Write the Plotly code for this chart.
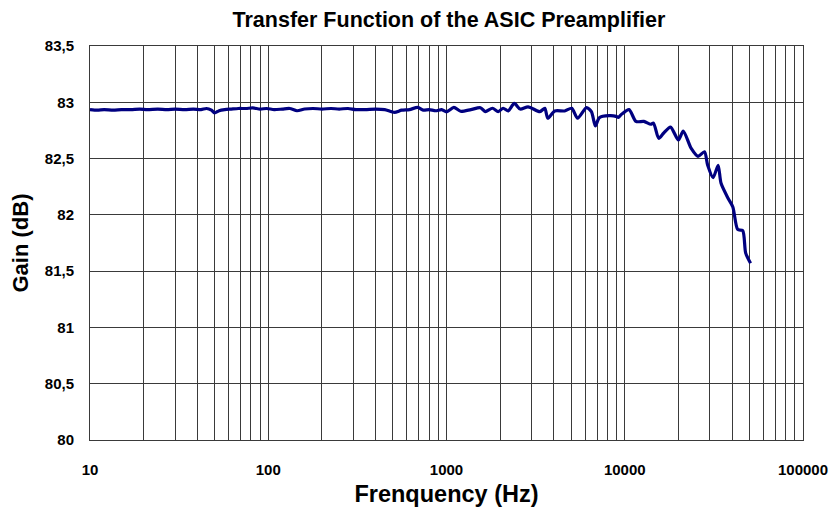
import plotly.graph_objects as go

# Measured gain of the ASIC preamplifier versus frequency
freq_hz = [
    10, 11, 12, 13.5, 15, 17, 19, 21, 24, 27, 30, 34, 38, 42, 45, 48, 50, 53,
    57, 62, 68, 75, 82, 90, 98, 108, 120, 132, 145, 160, 178, 200, 225, 250,
    280, 310, 350, 400, 450, 510, 560, 620, 690, 740, 800, 870, 940, 1000,
    1100, 1200, 1370, 1550, 1650, 1810, 1950, 2080, 2220, 2400, 2590, 2870,
    3340, 3560, 3700, 4050, 4600, 5040, 5440, 6100, 6500, 6840, 7200, 8180,
    8940, 9200, 9540, 10570, 11550, 12800, 14000, 14500, 15500, 16500, 18060,
    20000, 21300, 23600, 25800, 28000, 29200, 31300, 33400, 34700, 37900,
    40400, 43000, 45900, 47700, 50800,
]
gain_db = [
    82.935, 82.93, 82.935, 82.93, 82.935, 82.935, 82.94, 82.935, 82.94, 82.935,
    82.94, 82.935, 82.94, 82.935, 82.945, 82.93, 82.905, 82.925, 82.935, 82.94,
    82.945, 82.945, 82.95, 82.94, 82.945, 82.935, 82.94, 82.945, 82.925, 82.94,
    82.945, 82.94, 82.945, 82.94, 82.945, 82.935, 82.935, 82.94, 82.935, 82.91,
    82.93, 82.935, 82.955, 82.93, 82.935, 82.925, 82.935, 82.915,
    82.955, 82.92, 82.935, 82.952, 82.917, 82.947, 82.917, 82.947, 82.923,
    82.99, 82.94, 82.96, 82.917, 82.947, 82.858, 82.923, 82.923, 82.947,
    82.858, 82.952, 82.917, 82.79, 82.863, 82.881, 82.875, 82.865, 82.89,
    82.935, 82.83, 82.83, 82.805, 82.815, 82.68, 82.725, 82.78, 82.665,
    82.745, 82.59, 82.52, 82.56, 82.44, 82.33, 82.44, 82.28, 82.15, 82.07,
    81.87, 81.86, 81.66, 81.57,
]

# Axis ticks and grid positions
x_grid_vals = [m * 10 ** d for d in range(1, 5) for m in range(1, 10)] + [100000]
x_labels = {10: "10", 100: "100", 1000: "1000", 10000: "10000", 100000: "100000"}
x_grid_text = [x_labels.get(v, "") for v in x_grid_vals]
y_tick_vals = [80, 80.5, 81, 81.5, 82, 82.5, 83, 83.5]
y_tick_text = ["80", "80,5", "81", "81,5", "82", "82,5", "83", "83,5"]

font_family = "Liberation Sans, Arial, sans-serif"

fig = go.Figure()
fig.add_trace(go.Scatter(
    x=freq_hz,
    y=gain_db,
    mode="lines",
    line=dict(color="#000080", width=3.2, shape="spline", smoothing=0.7),
    showlegend=False,
    hoverinfo="x+y",
))

fig.update_layout(
    width=840,
    height=514,
    paper_bgcolor="white",
    plot_bgcolor="white",
    margin=dict(l=90, r=29, t=46, b=74),
    title=dict(
        text="<b>Transfer Function of the ASIC Preamplifier</b>",
        x=0.5345, xanchor="center",
        y=0.963, yanchor="middle",
        font=dict(family=font_family, size=21.5, color="black"),
    ),
    font=dict(family=font_family, color="black"),
)

fig.update_xaxes(
    type="log",
    range=[1, 5],
    tickmode="array",
    tickvals=x_grid_vals,
    ticktext=[f"<b>{t}</b>" if t else "" for t in x_grid_text],
    tickfont=dict(size=15, family=font_family, color="black"),
    ticks="",
    ticklabelstandoff=16,
    showgrid=True,
    gridcolor="#3a3a3a",
    gridwidth=1,
    showline=True,
    linecolor="#3a3a3a",
    linewidth=1,
    mirror=True,
    zeroline=False,
    title=dict(
        text="<b>Frenquency (Hz)</b>",
        font=dict(size=23.5, family=font_family, color="black"),
        standoff=8,
    ),
)

fig.update_yaxes(
    range=[80, 83.5],
    tickmode="array",
    tickvals=y_tick_vals,
    ticktext=[f"<b>{t}</b>" for t in y_tick_text],
    tickfont=dict(size=15, family=font_family, color="black"),
    ticks="",
    ticklabelstandoff=12,
    showgrid=True,
    gridcolor="#3a3a3a",
    gridwidth=1,
    showline=True,
    linecolor="#3a3a3a",
    linewidth=1,
    mirror=True,
    zeroline=False,
    title=dict(
        text="<b>Gain (dB)</b>",
        font=dict(size=22, family=font_family, color="black"),
        standoff=10,
    ),
)

fig.write_html("out.html")
